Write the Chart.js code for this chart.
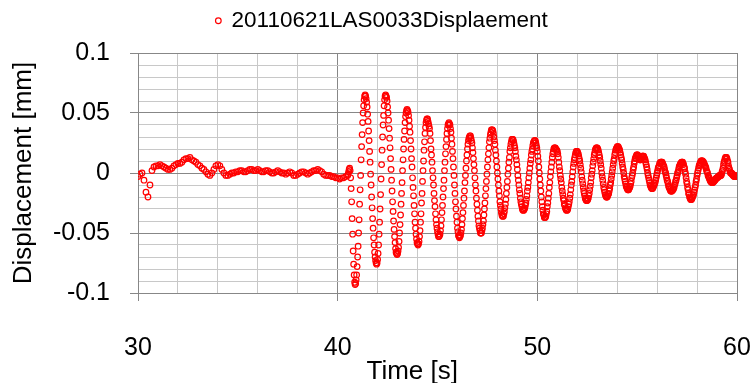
<!DOCTYPE html>
<html>
<head>
<meta charset="utf-8">
<script src="https://cdn.jsdelivr.net/npm/chart.js@4.4.0/dist/chart.umd.min.js"></script>
<style>
  html, body { margin: 0; padding: 0; background: #fff; }
  #wrap { width: 752px; height: 383px; }
</style>
</head>
<body>
<div id="wrap"><canvas id="c" width="752" height="383"></canvas></div>
<script>
const seriesLabel = "20110621LAS0033Displaement";

const quietStart = 30.0, quietStep = 0.1;
const quietY = [
  -0.003, -0.001, 0.000, -0.006, -0.016, -0.020, -0.010, 0.002, 0.005, 0.006,
  0.006, 0.007, 0.006, 0.005, 0.004, 0.003, 0.003, 0.004, 0.006, 0.007,
  0.008, 0.008, 0.009, 0.011, 0.012, 0.012, 0.013, 0.011, 0.010, 0.009,
  0.007, 0.006, 0.004, 0.003, 0.001, -0.001, -0.002, 0.000, 0.003, 0.006,
  0.007, 0.006, 0.003, 0.000, -0.002, -0.002, -0.001, 0.000, 0.000, 0.001,
  0.001, 0.002, 0.002, 0.001, 0.001, 0.002, 0.003, 0.003, 0.002, 0.002,
  0.003, 0.002, 0.001, 0.001, 0.002, 0.002, 0.001, 0.000, 0.000, 0.001,
  0.002, 0.001, 0.000, 0.000, -0.001, 0.000, 0.001, 0.000, -0.002, -0.002,
  -0.001, 0.000, 0.001, 0.001, 0.000, -0.001, 0.000, 0.001, 0.002, 0.002,
  0.003, 0.002, 0.001, -0.001, -0.002, -0.002, -0.002, -0.003, -0.003, -0.004,
  -0.004, -0.005, -0.004, -0.004, -0.003
];

const quakeStart = 40.5, quakeStep = 0.025;
const quakeY = [
  -0.002,
  -0.001, 0.001, 0.003, 0.004,
  0.002, -0.004, -0.013, -0.024, -0.038, -0.051, -0.065, -0.076, -0.085, -0.091, -0.093,
  -0.092, -0.089, -0.085, -0.078, -0.070, -0.061, -0.050, -0.039, -0.026, -0.014, -0.002, 0.011, 0.022, 0.032, 0.042, 0.050, 0.056, 0.061, 0.064, 0.065,
  0.064, 0.062, 0.059, 0.055, 0.049, 0.043, 0.035, 0.027, 0.018, 0.009, -0.001, -0.010, -0.020, -0.029, -0.038, -0.046, -0.054, -0.060, -0.066, -0.070, -0.073, -0.075, -0.076,
  -0.075, -0.072, -0.067, -0.060, -0.051, -0.041, -0.030, -0.018, -0.005, 0.007, 0.019, 0.030, 0.040, 0.048, 0.056, 0.061, 0.064, 0.065,
  0.064, 0.063, 0.060, 0.055, 0.050, 0.044, 0.037, 0.029, 0.021, 0.012, 0.003, -0.006, -0.015, -0.024, -0.032, -0.040, -0.047, -0.053, -0.058, -0.063, -0.066, -0.067, -0.068,
  -0.067, -0.065, -0.062, -0.057, -0.050, -0.043, -0.035, -0.026, -0.017, -0.008, 0.002, 0.011, 0.020, 0.028, 0.035, 0.042, 0.047, 0.050, 0.052, 0.053,
  0.052, 0.051, 0.048, 0.044, 0.039, 0.034, 0.027, 0.020, 0.012, 0.005, -0.004, -0.012, -0.019, -0.027, -0.034, -0.041, -0.046, -0.051, -0.055, -0.058, -0.059, -0.060,
  -0.059, -0.057, -0.053, -0.048, -0.041, -0.034, -0.025, -0.017, -0.007, 0.002, 0.010, 0.019, 0.026, 0.033, 0.038, 0.042, 0.044, 0.045,
  0.045, 0.043, 0.041, 0.039, 0.037, 0.033, 0.027, 0.020, 0.015, 0.009, 0.002, -0.004, -0.010, -0.017, -0.023, -0.028, -0.034, -0.039, -0.043, -0.046, -0.049, -0.051, -0.053, -0.053,
  -0.052, -0.051, -0.048, -0.044, -0.039, -0.033, -0.027, -0.020, -0.013, -0.006, 0.002, 0.009, 0.016, 0.022, 0.028, 0.033, 0.037, 0.040, 0.041, 0.042,
  0.041, 0.040, 0.037, 0.034, 0.029, 0.024, 0.018, 0.012, 0.005, -0.002, -0.010, -0.017, -0.024, -0.030, -0.036, -0.041, -0.046, -0.049, -0.052, -0.053, -0.054,
  -0.053, -0.052, -0.050, -0.047, -0.043, -0.038, -0.033, -0.027, -0.021, -0.015, -0.008, -0.002, 0.004, 0.010, 0.015, 0.020, 0.024, 0.027, 0.029, 0.030, 0.031,
  0.031, 0.029, 0.027, 0.025, 0.021, 0.017, 0.012, 0.007, 0.002, -0.004, -0.010, -0.015, -0.021, -0.026, -0.031, -0.036, -0.040, -0.044, -0.046, -0.048, -0.050, -0.050,
  -0.050, -0.048, -0.046, -0.043, -0.040, -0.035, -0.030, -0.025, -0.019, -0.013, -0.007, -0.001, 0.005, 0.011, 0.016, 0.021, 0.026, 0.029, 0.032, 0.034, 0.036, 0.036,
  0.036, 0.035, 0.033, 0.030, 0.027, 0.024, 0.019, 0.015, 0.010, 0.005, 0.000, -0.005, -0.010, -0.015, -0.019, -0.024, -0.027, -0.030, -0.033, -0.035, -0.036, -0.036,
  -0.036, -0.034, -0.032, -0.029, -0.026, -0.022, -0.017, -0.012, -0.007, -0.001, 0.004, 0.009, 0.013, 0.018, 0.021, 0.024, 0.026, 0.028, 0.028,
  0.028, 0.027, 0.025, 0.023, 0.021, 0.018, 0.014, 0.011, 0.007, 0.003, -0.002, -0.006, -0.010, -0.014, -0.017, -0.021, -0.024, -0.026, -0.028, -0.030, -0.031, -0.031,
  -0.031, -0.030, -0.029, -0.027, -0.025, -0.022, -0.019, -0.015, -0.012, -0.008, -0.004, 0.000, 0.004, 0.008, 0.011, 0.015, 0.018, 0.020, 0.023, 0.025, 0.026, 0.027, 0.027,
  0.027, 0.025, 0.023, 0.021, 0.018, 0.014, 0.010, 0.005, 0.000, -0.005, -0.010, -0.015, -0.020, -0.024, -0.028, -0.031, -0.034, -0.035, -0.037, -0.037,
  -0.037, -0.036, -0.034, -0.032, -0.028, -0.025, -0.021, -0.017, -0.012, -0.008, -0.003, 0.001, 0.005, 0.009, 0.013, 0.016, 0.018, 0.020, 0.021, 0.021,
  0.021, 0.020, 0.019, 0.019, 0.018, 0.016, 0.013, 0.009, 0.005, 0.002, -0.002, -0.005, -0.008, -0.012, -0.015, -0.018, -0.021, -0.023, -0.026, -0.027, -0.029, -0.030, -0.031, -0.031,
  -0.031, -0.030, -0.028, -0.026, -0.024, -0.021, -0.018, -0.014, -0.010, -0.007, -0.003, 0.001, 0.005, 0.008, 0.011, 0.013, 0.015, 0.017, 0.018, 0.018,
  0.018, 0.017, 0.016, 0.014, 0.012, 0.010, 0.007, 0.004, 0.001, -0.003, -0.006, -0.009, -0.012, -0.015, -0.017, -0.019, -0.021, -0.022, -0.023, -0.023,
  -0.023, -0.022, -0.021, -0.019, -0.017, -0.014, -0.011, -0.008, -0.004, -0.001, 0.002, 0.006, 0.009, 0.012, 0.015, 0.017, 0.019, 0.020, 0.021, 0.021,
  0.021, 0.020, 0.019, 0.017, 0.015, 0.013, 0.010, 0.007, 0.004, 0.000, -0.003, -0.006, -0.009, -0.012, -0.014, -0.016, -0.018, -0.019, -0.020, -0.020,
  -0.020, -0.019, -0.018, -0.017, -0.015, -0.013, -0.010, -0.008, -0.005, -0.002, 0.001, 0.004, 0.007, 0.010, 0.012, 0.015, 0.017, 0.019, 0.020, 0.021, 0.022, 0.022,
  0.022, 0.021, 0.020, 0.019, 0.017, 0.015, 0.013, 0.011, 0.008, 0.005, 0.003, 0.000, -0.003, -0.005, -0.007, -0.009, -0.011, -0.012, -0.013, -0.014, -0.014,
  -0.014, -0.013, -0.012, -0.011, -0.009, -0.007, -0.004, -0.002, 0.000, 0.003, 0.005, 0.008, 0.010, 0.012, 0.013, 0.014, 0.015, 0.015,
  0.015, 0.014, 0.013, 0.012, 0.011, 0.011, 0.011, 0.012, 0.013, 0.014, 0.014, 0.014,
  0.014, 0.013, 0.012, 0.011, 0.009, 0.007, 0.005, 0.003, 0.000, -0.002, -0.004, -0.006, -0.008, -0.010, -0.011, -0.012, -0.013, -0.013,
  -0.013, -0.012, -0.011, -0.010, -0.009, -0.008, -0.006, -0.004, -0.002, 0.000, 0.002, 0.004, 0.005, 0.006, 0.008, 0.008, 0.009, 0.009,
  0.009, 0.009, 0.008, 0.007, 0.006, 0.005, 0.003, 0.001, 0.000, -0.002, -0.004, -0.006, -0.007, -0.009, -0.011, -0.012, -0.013, -0.014, -0.015, -0.015, -0.015,
  -0.015, -0.014, -0.014, -0.013, -0.012, -0.010, -0.009, -0.007, -0.006, -0.004, -0.002, 0.000, 0.001, 0.003, 0.005, 0.006, 0.007, 0.008, 0.008, 0.009, 0.009,
  0.009, 0.008, 0.007, 0.005, 0.004, 0.001, -0.001, -0.004, -0.007, -0.009, -0.012, -0.014, -0.017, -0.018, -0.020, -0.021, -0.022, -0.022,
  -0.022, -0.021, -0.020, -0.019, -0.018, -0.016, -0.014, -0.012, -0.010, -0.007, -0.005, -0.002, 0.000, 0.002, 0.004, 0.006, 0.007, 0.008, 0.009, 0.010, 0.010,
  0.010, 0.010, 0.009, 0.009, 0.008, 0.007, 0.006, 0.005, 0.004, 0.002, 0.001, 0.000, -0.002, -0.003, -0.004, -0.005, -0.006, -0.007, -0.007, -0.008, -0.008, -0.008,
  -0.008, -0.007, -0.007, -0.006, -0.006, -0.005, -0.005, -0.004, -0.004, -0.004, -0.003, -0.003, -0.003, -0.002, -0.002, -0.002,
  -0.002, -0.001, 0.001, 0.002, 0.004, 0.007, 0.009, 0.010, 0.012, 0.013, 0.013,
  0.013, 0.012, 0.010, 0.009, 0.006, 0.004, 0.003, 0.001, 0.000, 0.000,
  0.000, -0.001, -0.001, -0.002, -0.002, -0.003, -0.003, -0.002, -0.002, -0.003, -0.003, -0.003
];

const xLabels = [30, 40, 50, 60];
const yLabels = [-0.1, -0.05, 0, 0.05, 0.1];

const points = [];
quietY.forEach((v, i) => points.push({ x: quietStart + i * quietStep, y: v }));
quakeY.forEach((v, i) => points.push({ x: quakeStart + i * quakeStep, y: v }));

const findLabel = (list, v) => list.find(t => Math.abs(t - v) < 1e-6);
const MAJOR = "#878787", MINOR = "#c8c8c8";

Chart.defaults.font.family = "'Liberation Sans', Arial, sans-serif";
Chart.defaults.color = "#000";

/* move the legend up and a little right of centre, like the original */
const legendShift = {
  id: "legendShift",
  afterLayout(chart) {
    const lg = chart.legend;
    if (!lg) return;
    lg.left += 6; lg.right += 6;
    lg.top -= 11; lg.bottom -= 11;
  }
};

new Chart(document.getElementById("c"), {
  type: "scatter",
  data: {
    datasets: [{
      label: seriesLabel,
      data: points,
      pointStyle: "circle",
      pointRadius: 2.8,
      borderWidth: 1.2,
      borderColor: "#ff0000",
      backgroundColor: "rgba(255,255,255,0)"
    }]
  },
  options: {
    responsive: false,
    animation: false,
    devicePixelRatio: 1,
    layout: { padding: 0 },
    plugins: {
      legend: {
        position: "top",
        labels: { usePointStyle: true, boxWidth: 4, boxHeight: 4, padding: 0, color: "#000", font: { size: 22.5 } }
      },
      tooltip: { enabled: false }
    },
    scales: {
      x: {
        type: "linear", min: 30, max: 60,
        ticks: {
          stepSize: 2, autoSkip: false, maxRotation: 0, padding: 32,
          font: { size: 25 },
          callback: v => { const m = findLabel(xLabels, v); return m === undefined ? "" : String(m); }
        },
        grid: {
          color: c => findLabel(xLabels, c.tick.value) !== undefined ? MAJOR : MINOR,
          tickColor: c => findLabel(xLabels, c.tick.value) !== undefined ? MAJOR : "rgba(0,0,0,0)",
          tickLength: 8
        },
        border: { color: MAJOR },
        /* trailing spaces pull the centred title left, where the original puts it */
        title: { display: true, text: "Time [s]       ", font: { size: 26, lineHeight: 1 }, padding: { top: 0, bottom: -2 } },
        afterFit: s => { s.height = 90; s.paddingLeft = 0; s.paddingRight = 15; }
      },
      y: {
        type: "linear", min: -0.1, max: 0.1,
        ticks: {
          stepSize: 0.01, autoSkip: false, padding: 20,
          font: { size: 25 },
          callback: v => { const m = findLabel(yLabels, v); return m === undefined ? "" : String(m); }
        },
        grid: {
          color: c => findLabel(yLabels, c.tick.value) !== undefined ? MAJOR : MINOR,
          tickColor: c => findLabel(yLabels, c.tick.value) !== undefined ? MAJOR : "rgba(0,0,0,0)",
          tickLength: 8
        },
        border: { color: MAJOR },
        title: { display: true, text: "Displacement [mm]", font: { size: 26 }, padding: { top: 8, bottom: 0 } },
        afterFit: s => { s.width = 138; s.paddingTop = 53; }
      }
    }
  },
  plugins: [legendShift]
});
</script>
</body>
</html>
